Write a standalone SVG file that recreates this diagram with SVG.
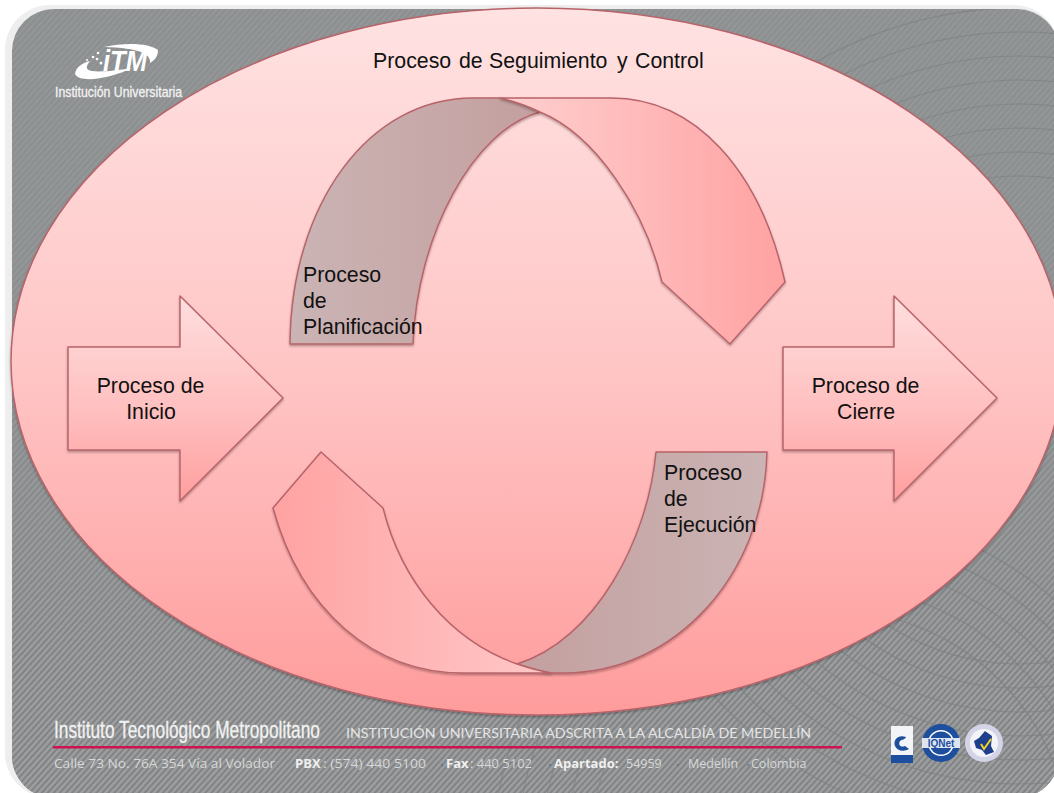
<svg xmlns="http://www.w3.org/2000/svg" width="1054" height="793" viewBox="0 0 1054 793">
<style>
.lbl{font-family:"Liberation Sans",Arial,sans-serif;font-size:21.3px;fill:#111}
.shape{stroke:#b8646a;stroke-width:1.5;stroke-linejoin:round}
.foot{font-family:"Open Sans","Noto Sans",sans-serif;font-size:12.5px;fill:#d6d7d8}
.caps{font-family:"Lato","Open Sans",sans-serif;font-size:13px;fill:#e4e4e5}
.footb{font-family:"Open Sans","Noto Sans",sans-serif;font-size:13px;font-weight:700;fill:#f0f0f0}
.narrow{font-family:"Liberation Sans",sans-serif;fill:#f2f2f2;stroke:#f2f2f2;stroke-width:.3}
.arc{fill:none;stroke:#7f8283;stroke-width:1.2;opacity:.75}
.dot{fill:#2f6f8f}
</style>
<defs>
<pattern id="hatchA" width="4.500" height="4.500" patternUnits="userSpaceOnUse" patternTransform="rotate(-48)"><rect width="4.500" height="4.500" fill="#8d9091"/><rect width="4.500" height="1.500" fill="#969899"/></pattern>
<pattern id="hatchB" width="4.500" height="4.500" patternUnits="userSpaceOnUse" patternTransform="rotate(-48)"><rect width="4.500" height="4.500" fill="#808283"/><rect width="4.500" height="2.500" fill="#9c9e9f"/></pattern>
<linearGradient id="fade" x1="0" y1="0" x2="0" y2="1"><stop offset=".45" stop-color="#000"/><stop offset=".85" stop-color="#fff"/></linearGradient>
<mask id="fadeMask" maskUnits="userSpaceOnUse" x="0" y="0" width="1054" height="793"><rect width="1054" height="793" fill="url(#fade)"/></mask>
<linearGradient id="big" x1="0" y1="0" x2="0" y2="1"><stop offset="0" stop-color="#ffe2e2"/><stop offset=".5" stop-color="#ffc6c6"/><stop offset="1" stop-color="#ff9c9c"/></linearGradient>
<linearGradient id="arrow" x1="0" y1="0" x2="0" y2="1"><stop offset="0" stop-color="#ffdede"/><stop offset=".6" stop-color="#ffbdbd"/><stop offset="1" stop-color="#ff9e9e"/></linearGradient>
<linearGradient id="bandU" gradientUnits="userSpaceOnUse" x1="500" y1="0" x2="785" y2="0"><stop offset="0" stop-color="#ffd0d0"/><stop offset="1" stop-color="#ffa2a2"/></linearGradient>
<linearGradient id="bandL" gradientUnits="userSpaceOnUse" x1="273" y1="0" x2="551" y2="0"><stop offset="0" stop-color="#ffa2a2"/><stop offset="1" stop-color="#ffc8c8"/></linearGradient>
<linearGradient id="grayU" gradientUnits="userSpaceOnUse" x1="290" y1="0" x2="540" y2="0"><stop offset="0" stop-color="#cbb4b4"/><stop offset="1" stop-color="#c49f9f"/></linearGradient>
<linearGradient id="grayL" gradientUnits="userSpaceOnUse" x1="517" y1="0" x2="767" y2="0"><stop offset="0" stop-color="#c49f9f"/><stop offset="1" stop-color="#cbb4b4"/></linearGradient>
<filter id="sh" x="-5%" y="-5%" width="110%" height="112%"><feDropShadow dx="0" dy="1.5" stdDeviation="1.2" flood-color="#000" flood-opacity=".3"/></filter>
<clipPath id="slide"><rect x="12" y="9" width="1047" height="789" rx="42"/></clipPath>
</defs>

<g id="background">
<rect width="1054" height="793" fill="#fff"/>
<rect x="5" y="5" width="1054" height="793" rx="45" fill="#eeeeee"/>
<rect x="12" y="9" width="1047" height="789" rx="42" fill="url(#hatchA)"/>
<rect x="12" y="9" width="1047" height="789" rx="42" fill="url(#hatchB)" mask="url(#fadeMask)"/>
<g clip-path="url(#slide)">
<circle class="arc" cx="1020" cy="420" r="412"/><circle class="arc" cx="1020" cy="420" r="388"/><circle class="arc" cx="1020" cy="420" r="364"/><circle class="arc" cx="1020" cy="420" r="340"/><circle class="arc" cx="1020" cy="420" r="316"/><circle class="arc" cx="1020" cy="420" r="292"/><circle class="arc" cx="1020" cy="420" r="268"/><circle class="arc" cx="1020" cy="420" r="244"/>
<circle class="arc" cx="830" cy="850" r="240"/><circle class="arc" cx="830" cy="850" r="264"/><circle class="arc" cx="830" cy="850" r="288"/><circle class="arc" cx="830" cy="850" r="312"/><circle class="arc" cx="830" cy="850" r="336"/>
</g>
</g>

<g id="logo-itm">
<path d="M75,74 C76,67 82,63 90,61 C86,66 85,70 92,71 C100,72 115,71 132,68 C112,78 80,84 75,74 Z" fill="#fff"/>
<path d="M104,47 C125,42 150,43 158,50 C158,56 155,60 150,63 C151,54 140,48 104,47 Z" fill="#fff"/>
<circle cx="98" cy="53" r="1.300" fill="#fff"/><circle cx="93" cy="57" r="1.300" fill="#fff"/><circle cx="87" cy="60" r="1" fill="#fff"/><circle cx="97" cy="59" r="1.300" fill="#fff"/><circle cx="101" cy="63" r="1.500" fill="#fff"/>
<text x="103" y="71" font-family="Liberation Sans,sans-serif" font-size="29" font-weight="700" font-style="italic" fill="#fff" textLength="44" lengthAdjust="spacingAndGlyphs">iTM</text>
<text class="narrow" transform="translate(55,96.500) scale(.8,1)" font-size="14" textLength="159" lengthAdjust="spacingAndGlyphs">Institución Universitaria</text>
</g>

<g id="proceso-seguimiento-control">
<ellipse class="shape" cx="537" cy="361.5" rx="526" ry="353.5" fill="url(#big)" filter="url(#sh)"/>
<text class="lbl" y="68"><tspan x="373">Proceso</tspan><tspan x="459">de</tspan><tspan x="489">Seguimiento</tspan><tspan x="617">y</tspan><tspan x="635">Control</tspan></text>
</g>

<g id="proceso-inicio">
<path class="shape" d="M68,347 H180 V296 L283,398 L180,501 V450 H68 Z" fill="url(#arrow)" filter="url(#sh)"/>
<text class="lbl" text-anchor="middle" x="150.500" y="393">Proceso de</text>
<text class="lbl" text-anchor="middle" x="151" y="419">Inicio</text>
</g>

<g id="proceso-cierre">
<path class="shape" d="M783,347 H894 V296 L997,398 L894,501 V450 H783 Z" fill="url(#arrow)" filter="url(#sh)"/>
<text class="lbl" text-anchor="middle" x="865.500" y="393">Proceso de</text>
<text class="lbl" text-anchor="middle" x="866" y="419">Cierre</text>
</g>

<g id="proceso-planificacion">
<path class="shape" d="M290,344 C291,205 368,98 473,98 L500,98 C513,101 528,106 540,112 C473,130 417,235 413,344 Z" fill="url(#grayU)" filter="url(#sh)"/>
<path class="shape" d="M500,98 H611 C695,98 760,170 785,282 L730,344 L662,282 C645,210 596,135 540,112 C528,106 513,101 500,98 Z" fill="url(#bandU)" filter="url(#sh)"/>
<text class="lbl" x="303" y="282">Proceso</text>
<text class="lbl" x="303" y="308">de</text>
<text class="lbl" x="303" y="334">Planificación</text>
</g>

<g id="proceso-ejecucion">
<path class="shape" d="M656,452 H767 C764,575 675,673 564,673 L551,673 C539,671 529,668 517,664 C595,640 648,540 656,452 Z" fill="url(#grayL)" filter="url(#sh)"/>
<path class="shape" d="M321,452 L383,508 C401,580 449,640 517,664 C529,668 539,671 551,673 H463 C373,673 301,610 273,508 Z" fill="url(#bandL)" filter="url(#sh)"/>
<text class="lbl" x="664" y="480">Proceso</text>
<text class="lbl" x="664" y="506">de</text>
<text class="lbl" x="664" y="532">Ejecución</text>
</g>

<g id="footer">
<text class="narrow" transform="translate(54,738) scale(.68,1)" font-size="24" textLength="391" lengthAdjust="spacingAndGlyphs">Instituto Tecnológico Metropolitano</text>
<text class="caps" x="346" y="738" textLength="465" lengthAdjust="spacingAndGlyphs">INSTITUCIÓN UNIVERSITARIA ADSCRITA A LA ALCALDÍA DE MEDELLÍN</text>
<rect x="53" y="746" width="789" height="2.500" fill="#cc1450"/>
<text class="foot" x="54" y="768" textLength="221" lengthAdjust="spacingAndGlyphs">Calle 73 No. 76A 354 Vía al Volador</text>
<text class="footb" x="295" y="768">PBX</text>
<text class="foot" x="323" y="768" textLength="103" lengthAdjust="spacingAndGlyphs">: (574) 440 5100</text>
<circle class="dot" cx="442" cy="765" r=".8"/>
<text class="footb" x="446" y="768">Fax</text>
<text class="foot" x="470" y="768" textLength="62" lengthAdjust="spacingAndGlyphs">: 440 5102</text>
<circle class="dot" cx="550" cy="765" r=".8"/>
<text class="footb" x="554" y="768">Apartado:</text>
<text class="foot" x="626" y="768">54959</text>
<circle class="dot" cx="678" cy="765" r=".8"/>
<text class="foot" x="688" y="768">Medellín</text>
<circle class="dot" cx="748" cy="765" r=".8"/>
<text class="foot" x="751" y="768">Colombia</text>
</g>

<g id="sellos">
<rect x="891" y="726" width="22" height="37" fill="#f2f4f8"/>
<rect x="891" y="755" width="22" height="8" fill="#1d4f9e"/>
<path d="M906,737 C897,734 893,741 895,746 C897,751 904,752 909,749 L905,746 C900,748 898,744 900,741 C902,739 905,740 906,737 Z" fill="#1d4f9e"/>
<circle cx="941" cy="743" r="19" fill="#1d4f9e"/>
<circle cx="941" cy="743" r="13" fill="#fff"/>
<circle cx="941" cy="743" r="11.500" fill="#1d4f9e"/>
<rect x="922" y="738" width="38" height="10" fill="#dfe5f0"/>
<text x="941" y="747" text-anchor="middle" font-family="Liberation Sans,sans-serif" font-size="10" font-weight="700" fill="#1d4f9e">IQNet</text>
<circle cx="984" cy="743" r="19" fill="#d4d4e8"/>
<circle cx="984" cy="743" r="14" fill="#f4f4f8"/>
<path d="M985,731 L992,736 L991,746 L994,752 L986,755 L982,750 L976,748 L974,741 L979,738 Z" fill="#1d3f8e"/>
<path d="M981,744 L984,749 L991,739" fill="none" stroke="#f2d21e" stroke-width="2"/>
</g>
</svg>
